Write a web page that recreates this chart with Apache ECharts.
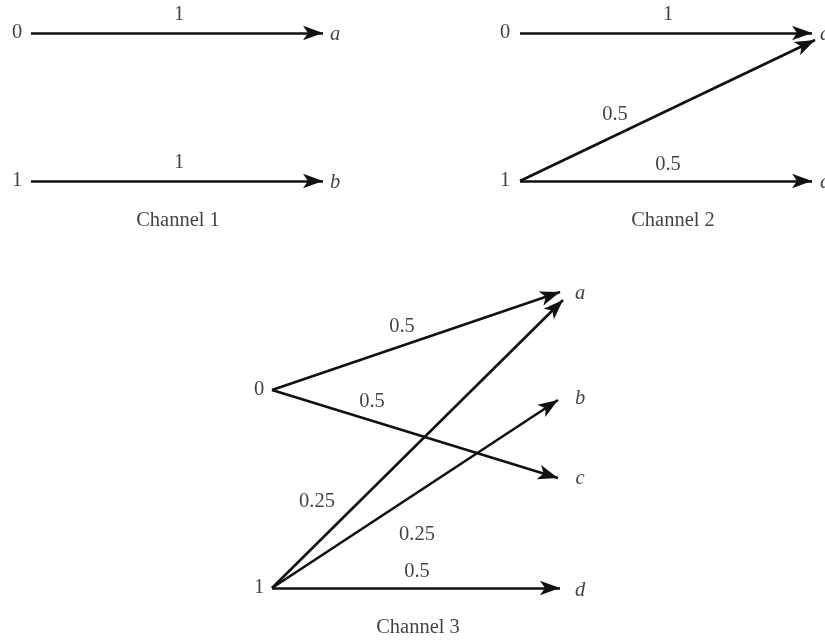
<!DOCTYPE html>
<html>
<head>
<meta charset="utf-8">
<script src="https://cdn.jsdelivr.net/npm/echarts@6/dist/echarts.min.js"></script>
<style>
  html, body { margin: 0; padding: 0; background: #ffffff; }
  #chart { width: 825px; height: 640px; }
</style>
</head>
<body>
<div id="chart"></div>
<script>
// ---------- data ----------
const channelTitles = ['Channel 1', 'Channel 2', 'Channel 3'];
const inputSymbols = ['0', '1'];

const ch1Outputs = ['a', 'b'];
const ch1Edges = [[0, 0], [1, 1]];          // [input index, output index]
const ch1Probs = ['1', '1'];

const ch2Outputs = ['a', 'd'];
const ch2Edges = [[0, 0], [1, 0], [1, 1]];
const ch2Probs = ['1', '0.5', '0.5'];

const ch3Outputs = ['a', 'b', 'c', 'd'];
const ch3Edges = [[0, 0], [0, 2], [1, 0], [1, 1], [1, 3]];
const ch3Probs = ['0.5', '0.5', '0.25', '0.25', '0.5'];

// ---------- layout (axis units = page pixels) ----------
const layouts = [
  { inX: 31, inLabelX: 17, inY: [33, 181],
    outLabelX: 335, outLabelY: [35, 183], outAlign: 'center',
    tips: [[323, 33], [323, 181]],
    probPos: [[179, 15], [179, 163]], title: [178, 221] },
  { inX: 520, inLabelX: 505, inY: [33, 181],
    outLabelX: 820, outLabelY: [35, 183], outAlign: 'left',
    tips: [[812, 33], [815, 40], [812, 181]],
    probPos: [[668, 15], [615, 115], [668, 165]], title: [673, 221] },
  { inX: 272, inLabelX: 259, inY: [390, 588],
    outLabelX: 580, outLabelY: [294, 399, 479, 591], outAlign: 'center',
    tips: [[560, 292], [558, 478], [563, 300], [558, 400], [560, 588]],
    probPos: [[402, 327], [372, 402], [317, 502], [417, 535], [417, 572]], title: [418, 628] }
];

const channels = [
  { outputs: ch1Outputs, edges: ch1Edges, probs: ch1Probs },
  { outputs: ch2Outputs, edges: ch2Edges, probs: ch2Probs },
  { outputs: ch3Outputs, edges: ch3Edges, probs: ch3Probs }
];

// ---------- build series data ----------
const FONT = 'Liberation Serif';
const INK = '#111111';
const FS = 20.5;

const lineData = [];
const plainText = [];
const italicText = [];

channels.forEach((ch, ci) => {
  const L = layouts[ci];
  ch.edges.forEach((e, ei) => {
    lineData.push({ coords: [[L.inX, L.inY[e[0]]], L.tips[ei]] });
    plainText.push({ name: ch.probs[ei], value: L.probPos[ei] });
  });
  inputSymbols.forEach((s, si) => {
    plainText.push({ name: s, value: [L.inLabelX, L.inY[si]] });
  });
  ch.outputs.forEach((o, oi) => {
    italicText.push({ name: o, value: [L.outLabelX, L.outLabelY[oi]],
      label: { align: L.outAlign } });
  });
  plainText.push({ name: channelTitles[ci], value: L.title });
});

const chart = echarts.init(document.getElementById('chart'), null, { renderer: 'canvas' });
chart.setOption({
  animation: false,
  backgroundColor: '#ffffff',
  grid: { left: 0, right: 0, top: 0, bottom: 0 },
  xAxis: { type: 'value', min: 0, max: 825, show: false },
  yAxis: { type: 'value', min: 0, max: 640, inverse: true, show: false },
  series: [
    {
      type: 'lines',
      coordinateSystem: 'cartesian2d',
      silent: true,
      symbol: ['none', 'arrow'],
      symbolSize: [[11, 20], [11, 20]],
      lineStyle: { color: INK, width: 2.6, opacity: 1, curveness: 0 },
      itemStyle: { color: INK },
      data: lineData
    },
    {
      type: 'scatter',
      silent: true,
      symbolSize: 0,
      label: { show: true, position: 'inside', formatter: '{b}',
        fontFamily: FONT, fontSize: FS, color: INK },
      data: plainText
    },
    {
      type: 'scatter',
      silent: true,
      symbolSize: 0,
      label: { show: true, position: 'inside', formatter: '{b}',
        fontFamily: FONT, fontSize: FS, fontStyle: 'italic', color: INK },
      data: italicText
    }
  ]
});
</script>
</body>
</html>
